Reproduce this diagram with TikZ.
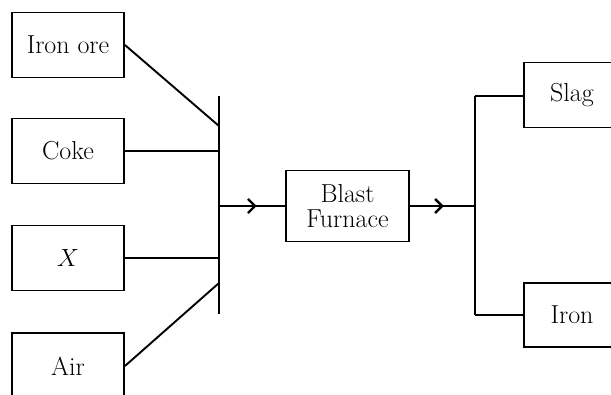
\documentclass[tikz,border=0pt]{standalone}
\usetikzlibrary{arrows.meta,decorations.markings}
\begin{document}
\begin{tikzpicture}[x=1pt,y=-1pt,
  line width=1.9pt,
  box/.style={draw,line width=1.9pt,minimum width=112pt,minimum height=65pt,inner sep=0pt,
    font=\fontsize{26}{29}\selectfont,align=center},
  midarrow/.style={postaction={decorate},decoration={markings,
    mark=at position #1 with {\arrow{Straight Barb[length=7pt,width=14pt,line width=2.4pt]}}}}
]
\useasboundingbox (0,0) rectangle (611,394);
\clip (0,0) rectangle (611,394);
\node[box] (ore) at (68,45) {Iron ore};
\node[box] (coke) at (68,151) {Coke};
\node[box] (x) at (68,258) {$X$};
\node[box,minimum height=66pt] (air) at (68,366) {Air};
\node[box,minimum width=123pt,minimum height=71pt] (blast) at (347.5,206) {Blast\\[-4pt]Furnace};
\node[box,minimum width=100pt] (slag) at (574,95) {\hspace*{-4pt}Slag};
\node[box,minimum width=100pt,minimum height=64pt] (iron) at (574,315) {\hspace*{-4pt}Iron};
\coordinate (btop) at (219,96);
\coordinate (bbot) at (219,314);
\coordinate (j1) at (219,126);
\coordinate (j4) at (219,283);
\coordinate (jm) at (219,206);
\coordinate (rtop) at (475,96);
\coordinate (rbot) at (475,315);
\coordinate (rm) at (475,206);
\draw (btop) -- (bbot);
\draw (ore.east) -- (j1);
\draw (coke.east) -- (coke.east -| btop);
\draw (x.east) -- (x.east -| btop);
\draw (air.east) -- (j4);
\draw[midarrow=0.57] (jm) -- (jm -| blast.west);
\draw[midarrow=0.52] (blast.east) -- (rm);
\draw (rtop) -- (rbot);
\draw (rtop) -- (rtop -| slag.west);
\draw (rbot) -- (rbot -| iron.west);
\end{tikzpicture}
\end{document}
